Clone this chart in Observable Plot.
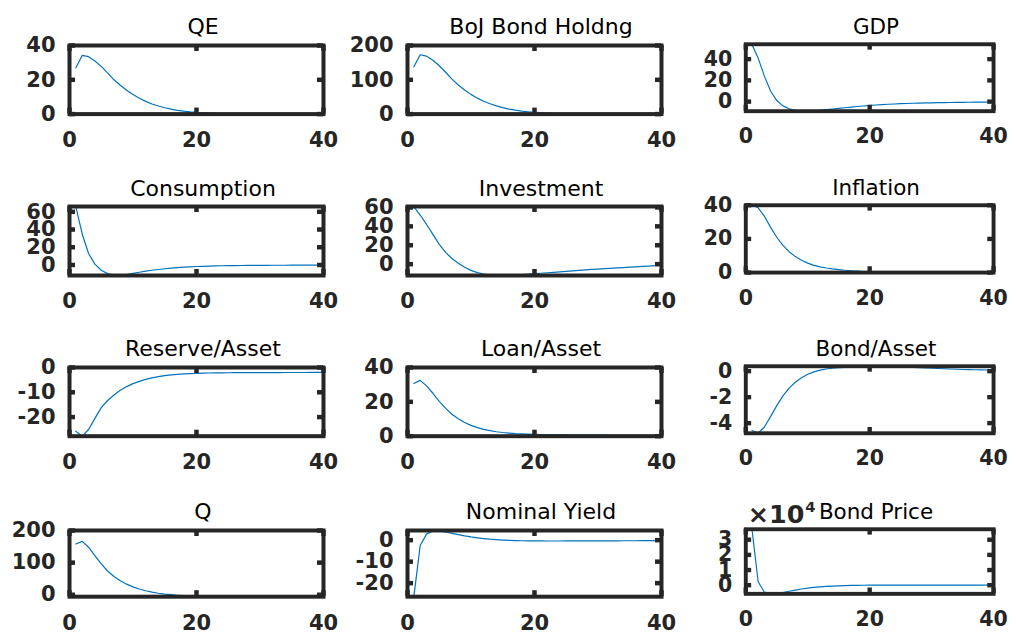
<!DOCTYPE html>
<html>
<head>
<meta charset="utf-8">
<script src="https://cdn.jsdelivr.net/npm/d3@7"></script>
<script src="https://cdn.jsdelivr.net/npm/@observablehq/plot@0.6"></script>
<style>
  html, body { margin: 0; padding: 0; background: #fff; }
  #fig { position: relative; width: 1016px; height: 637px; overflow: hidden; background: #fff; }
  #fig > div { position: absolute; }
</style>
</head>
<body>
<div id="fig"></div>
<script>
// Impulse responses to a QE shock, 40-period horizon
const horizon = [1,2,3,4,5,6,7,8,9,10,11,12,13,14,15,16,17,18,19,20,
                 21,22,23,24,25,26,27,28,29,30,31,32,33,34,35,36,37,38,39,40];

const qe = [27, 34.2, 33.5, 31, 27.8, 24, 20, 16.8, 13.9, 11.4, 9.2, 7.4, 5.9, 4.7, 3.7, 2.9, 2.2, 1.7, 1.3, 1.0,
            0.8, 0.6, 0.45, 0.33, 0.25, 0.18, 0.13, 0.1, 0.07, 0.05, 0.04, 0.03, 0.02, 0.015, 0.01, 0.008, 0.006, 0.004, 0.003, 0.002];
const bojBondHolding = [138, 173, 169, 157, 141, 122, 102, 85, 70, 57.5, 46.5, 37.5, 30, 23.8, 18.8, 14.7, 11.4, 8.8, 6.8, 5.2,
            4.0, 3.0, 2.3, 1.7, 1.3, 0.95, 0.7, 0.5, 0.37, 0.27, 0.2, 0.15, 0.1, 0.08, 0.06, 0.04, 0.03, 0.02, 0.015, 0.01];
const gdp = [53.5, 41, 24, 10, 1, -4, -6.8, -8.2, -8.7, -8.7, -8.5, -8.1, -7.6, -7.0, -6.4, -5.8, -5.2, -4.6, -4.1, -3.6,
            -3.2, -2.8, -2.5, -2.2, -1.95, -1.75, -1.55, -1.4, -1.25, -1.1, -1.0, -0.9, -0.8, -0.72, -0.65, -0.58, -0.52, -0.46, -0.41, -0.36];
const consumption = [65.5, 35, 13, 1, -6, -9.8, -11.5, -11.8, -10.8, -9.5, -8.2, -7, -6, -5.1, -4.3, -3.6, -3.0, -2.5, -2.1, -1.75,
            -1.5, -1.25, -1.05, -0.9, -0.78, -0.68, -0.6, -0.53, -0.47, -0.42, -0.38, -0.35, -0.32, -0.3, -0.28, -0.27, -0.26, -0.25, -0.25, -0.24];
const investment = [60.5, 52, 42, 31.5, 21, 12.5, 6, 1, -3.3, -6.6, -8.9, -10.4, -11.3, -11.8, -11.9, -11.8, -11.5, -11.1, -10.6, -10.1,
            -9.6, -9.1, -8.6, -8.1, -7.6, -7.1, -6.6, -6.1, -5.6, -5.2, -4.8, -4.4, -4.0, -3.6, -3.2, -2.8, -2.4, -2.0, -1.6, -1.2];
const inflation = [40, 38.5, 33.5, 27, 21, 16.2, 12.4, 9.5, 7.3, 5.6, 4.3, 3.4, 2.7, 2.2, 1.8, 1.4, 1.1, 0.85, 0.65, 0.5,
            0.4, 0.32, 0.26, 0.21, 0.17, 0.14, 0.12, 0.1, 0.08, 0.07, 0.06, 0.05, 0.045, 0.04, 0.035, 0.03, 0.028, 0.025, 0.022, 0.02];
const reserveAsset = [-25.7, -27.7, -25, -20.5, -16.2, -13.3, -11.1, -9.2, -7.7, -6.5, -5.6, -4.8, -4.2, -3.7, -3.3, -3.0, -2.8, -2.6, -2.45, -2.35,
            -2.28, -2.22, -2.18, -2.15, -2.12, -2.1, -2.08, -2.07, -2.06, -2.05, -2.04, -2.03, -2.03, -2.02, -2.02, -2.01, -2.01, -2.0, -2.0, -2.0];
const loanAsset = [30.7, 32.5, 29.3, 25, 20.3, 16.2, 12.8, 10.1, 8.0, 6.3, 5.0, 4.0, 3.2, 2.6, 2.15, 1.8, 1.5, 1.3, 1.15, 1.0,
            0.92, 0.85, 0.8, 0.75, 0.71, 0.68, 0.65, 0.63, 0.61, 0.59, 0.57, 0.56, 0.55, 0.54, 0.53, 0.52, 0.51, 0.5, 0.5, 0.49];
const bondAsset = [-4.56, -4.76, -4.3, -3.5, -2.65, -1.9, -1.3, -0.85, -0.5, -0.24, -0.05, 0.08, 0.17, 0.23, 0.27, 0.3, 0.32, 0.34, 0.35, 0.36,
            0.36, 0.36, 0.35, 0.34, 0.33, 0.31, 0.29, 0.27, 0.25, 0.23, 0.21, 0.19, 0.17, 0.15, 0.13, 0.12, 0.11, 0.1, 0.09, 0.08];
const tobinQ = [158, 166, 148, 122, 96, 74, 57, 43.5, 33, 24.5, 17.8, 12.4, 8.2, 4.8, 2.2, 0.2, -1.5, -2.8, -3.8, -4.6,
            -5.2, -5.6, -5.9, -6.0, -6.0, -5.9, -5.8, -5.6, -5.4, -5.2, -5.0, -4.8, -4.5, -4.3, -4.1, -3.8, -3.6, -3.4, -3.2, -3.0];
const nominalYield = [-26.3, -2.5, 2.8, 4.4, 4.3, 3.8, 3.2, 2.6, 2.0, 1.5, 1.1, 0.75, 0.45, 0.22, 0.04, -0.1, -0.2, -0.27, -0.32, -0.35,
            -0.37, -0.38, -0.38, -0.38, -0.37, -0.36, -0.35, -0.34, -0.33, -0.32, -0.31, -0.3, -0.29, -0.28, -0.27, -0.26, -0.25, -0.24, -0.23, -0.22];
const bondPrice = [36900, 2300, -4600, -5700, -5600, -4900, -4000, -3200, -2500, -1900, -1450, -1100, -800, -580, -400, -270, -170, -90, -30, 10,
            40, 60, 75, 85, 90, 92, 93, 93, 92, 91, 90, 89, 88, 87, 86, 85, 84, 83, 82, 81];

const titles = ["QE", "BoJ Bond Holdng", "GDP", "Consumption", "Investment", "Inflation",
                "Reserve/Asset", "Loan/Asset", "Bond/Asset", "Q", "Nominal Yield", "Bond Price"];
const seriesList = [qe, bojBondHolding, gdp, consumption, investment, inflation,
                    reserveAsset, loanAsset, bondAsset, tobinQ, nominalYield, bondPrice];
const yDomains = [[0, 40], [0, 200], [-9, 54], [-11.9, 66], [-12, 61], [0, 40],
                  [-27.7, 0], [0, 40], [-4.78, 0.38], [-6, 200], [-26.3, 4.5], [-5700, 36900]];
const yTickValues = [[0, 20, 40], [0, 100, 200], [0, 20, 40], [0, 20, 40, 60], [0, 20, 40, 60], [0, 20, 40],
                     [-20, -10, 0], [0, 20, 40], [-4, -2, 0], [0, 100, 200], [-20, -10, 0], [0, 10000, 20000, 30000]];
const xTickValues = [0, 20, 40];
const bondPriceExponent = 4;

// subplot grid geometry (axes boxes, in page pixels)
const colLeft = [68.5, 407, 746.5];
const rowTop = [44.7, 205.5, 367, 529.5];
const rowHeight = [68.6, 69, 68.7, 66.2];
const boxW = 254;
const mL = 70, mR = 24, mT = 50, mB = 45;

const ink = "#262626";
const lineBlue = "#0072BD";
const tickFont = 21;
const fig = document.getElementById("fig");

titles.forEach((title, i) => {
  const col = i % 3, row = Math.floor(i / 3);
  const boxH = rowHeight[row];
  const series = seriesList[i];
  const rows = horizon.map((t, k) => ({t, v: series[k]}));
  const yt = yTickValues[i];
  const scaled = i === 11;
  const tickLen = 6;

  const marks = [
    Plot.line(rows, {x: "t", y: "v", stroke: lineBlue, strokeWidth: 1.2}),
    Plot.frame({stroke: ink, strokeWidth: 4}),
    // inward tick marks on all four sides
    Plot.ruleX(xTickValues, {stroke: ink, strokeWidth: 4.5, insetTop: boxH - tickLen}),
    Plot.ruleX(xTickValues, {stroke: ink, strokeWidth: 4.5, insetBottom: boxH - tickLen}),
    Plot.ruleY(yt, {stroke: ink, strokeWidth: 4.5, insetRight: boxW - tickLen}),
    Plot.ruleY(yt, {stroke: ink, strokeWidth: 4.5, insetLeft: boxW - tickLen}),
    Plot.axisX({ticks: xTickValues, tickSize: 0, tickPadding: 18, fontSize: tickFont, fontWeight: "bold",
                fill: ink, label: null, tickFormat: d => String(d)}),
    Plot.axisY({ticks: yt, tickSize: 0, tickPadding: 14, fontSize: tickFont, fontWeight: "bold",
                fill: ink, label: null, tickFormat: d => String(scaled ? d / 10000 : d)}),
    Plot.text([title], {frameAnchor: "top", lineAnchor: "bottom", dy: -11, dx: 6.5,
                        fontSize: 22, fill: "#000"})
  ];
  if (scaled) {
    marks.push(
      Plot.text(["×10"], {frameAnchor: "top-left", textAnchor: "start", lineAnchor: "bottom",
                          dx: 2, dy: -6, fontSize: 26, fontWeight: "bold", fill: ink}),
      Plot.text([String(bondPriceExponent)], {frameAnchor: "top-left", textAnchor: "start", lineAnchor: "bottom",
                          dx: 61, dy: -17.5, fontSize: 15, fontWeight: "bold", fill: ink})
    );
  }

  const svg = Plot.plot({
    width: boxW + mL + mR,
    height: boxH + mT + mB,
    marginLeft: mL, marginRight: mR, marginTop: mT, marginBottom: mB,
    x: {domain: [0, 40]},
    y: {domain: yDomains[i]},
    style: {background: "transparent", overflow: "visible", color: ink, fontFamily: "'DejaVu Sans', sans-serif"},
    marks
  });

  const holder = document.createElement("div");
  holder.style.left = (colLeft[col] - mL) + "px";
  holder.style.top = (rowTop[row] - mT) + "px";
  holder.appendChild(svg);
  fig.appendChild(holder);
});
</script>
</body>
</html>
